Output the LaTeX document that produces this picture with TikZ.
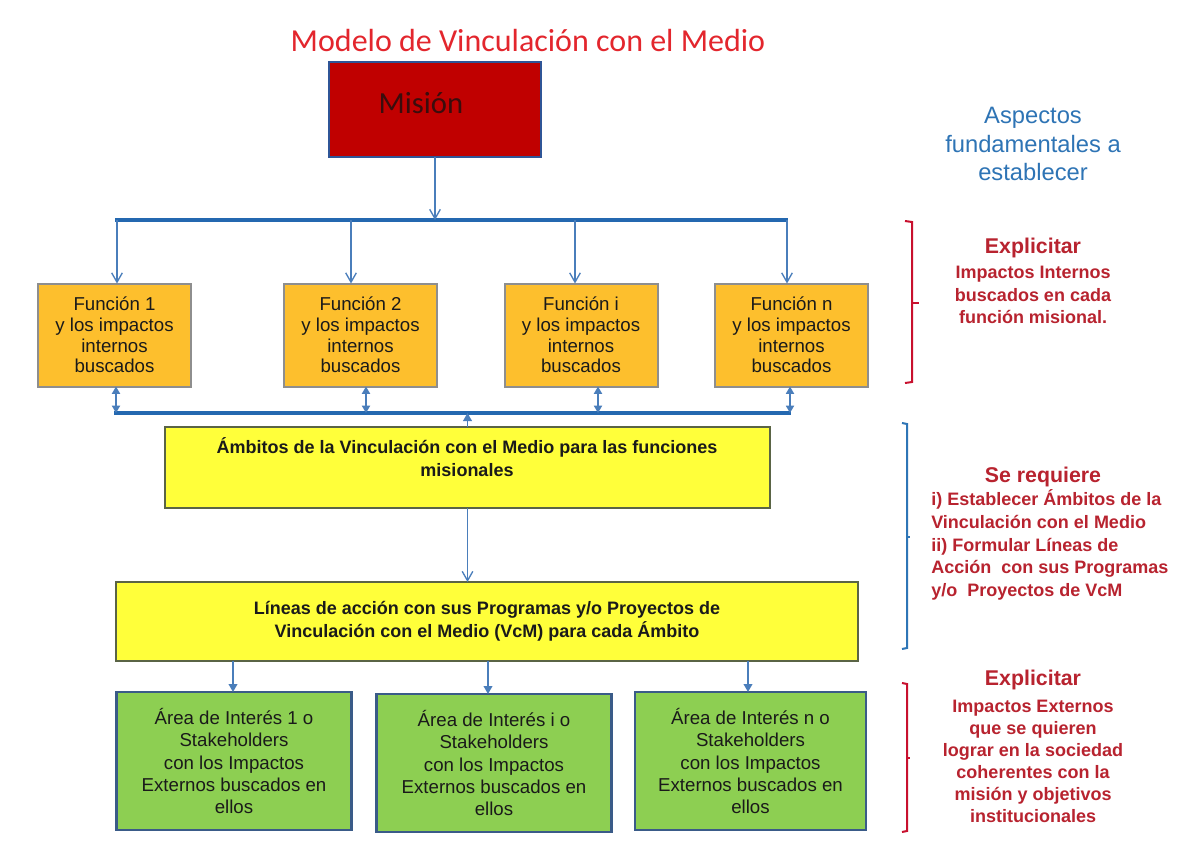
\documentclass[tikz,border=0pt]{standalone}
\usepackage{fontspec}
\setmainfont{Liberation Sans}
\newfontfamily\titlefont{Carlito}
\usetikzlibrary{arrows.meta,calc}
\definecolor{titlered}{HTML}{E3262D}
\definecolor{misred}{HTML}{C00000}
\definecolor{misborder}{HTML}{2F5597}
\definecolor{mistext}{HTML}{3A0D0D}
\definecolor{barblue}{HTML}{2468B0}
\definecolor{linkblue}{HTML}{4A7EBB}
\definecolor{orangefill}{HTML}{FDBF2D}
\definecolor{orangeborder}{HTML}{8E8E8E}
\definecolor{yellowfill}{HTML}{FFFF3A}
\definecolor{yellowborder}{HTML}{5A6445}
\definecolor{greenfill}{HTML}{8DCF52}
\definecolor{greenborder}{HTML}{3A5B88}
\definecolor{notered}{HTML}{B8232F}
\definecolor{noteblue}{HTML}{2E74B5}
\definecolor{bracered}{HTML}{C8102E}
\definecolor{braceblue}{HTML}{2E75B6}
\definecolor{boxtext}{HTML}{1A1A1A}
\begin{document}
\begin{tikzpicture}[x=0.75pt,y=-0.75pt,
  sz/.style 2 args={minimum width=#1*0.75pt,minimum height=#2*0.75pt},
  base/.style={inner sep=0pt,outer sep=0pt,align=center,text=boxtext},
  funbox/.style={base,draw=orangeborder,line width=1.5pt,fill=orangefill,
    font=\fontsize{14}{15.6}\selectfont,sz={153}{103}},
  yelbox/.style={base,draw=yellowborder,line width=1.6pt,fill=yellowfill,
    font=\bfseries\fontsize{13.5}{17}\selectfont},
  grnbox/.style={base,draw=greenborder,line width=2.2pt,fill=greenfill,
    font=\fontsize{14}{16.8}\selectfont,sz={235}{138}},
  heading/.style={inner sep=0pt,text=notered,font=\bfseries\fontsize{16}{19}\selectfont},
  note/.style={inner sep=0pt,text=notered,align=center,font=\bfseries\fontsize{13.5}{17}\selectfont},
  bar/.style={draw=barblue,line width=2.3pt},
  link/.style={draw=linkblue,line width=1pt},
  vhead/.style={-{Straight Barb[length=7pt,width=8pt]}},
  thead/.style={-{Triangle[length=6pt,width=6.5pt]}},
  dhead/.style={{Triangle[length=5.5pt,width=6pt]}-{Triangle[length=5.5pt,width=6pt]}}
]
\useasboundingbox (0,0) rectangle (1201,857);
\fill[white] (0,0) rectangle (1201,857);

% title
\node[inner sep=0pt,text=titlered,font=\titlefont\fontsize{24}{28}\selectfont] (title) at (528,41) {Modelo de Vinculación con el Medio};

% mision
\node[base,draw=misborder,line width=1.6pt,fill=misred,sz={212}{95}] (mision) at (435,109.5) {};
\node[inner sep=0pt,text=mistext,font=\titlefont\fontsize{23}{26}\selectfont] (mtext) at (421,103) {Misión};

% upper bar
\coordinate (barL) at (115,220);
\coordinate (barR) at (788,220);
\draw[bar] (barL) -- (barR);
\draw[link,vhead] (mision.south) -- (mision.south |- barL);

% function boxes
\node[funbox] (f1) at (114.5,335) {Función 1\\y los impactos\\internos\\buscados};
\node[funbox] (f2) at (360.5,335) {Función 2\\y los impactos\\internos\\buscados};
\node[funbox] (fi) at (581,335) {Función i\\y los impactos\\internos\\buscados};
\node[funbox] (fn) at (791.5,335) {Función n\\y los impactos\\internos\\buscados};

\coordinate (f1t) at ($(f1.north)+(2.5,0)$);
\coordinate (f2t) at ($(f2.north)+(-9.5,0)$);
\coordinate (fit) at ($(fi.north)+(-6,0)$);
\coordinate (fnt) at ($(fn.north)+(-4.5,0)$);
\foreach \t in {f1t,f2t,fit,fnt}{
  \draw[link,vhead] (\t |- barL) -- (\t);
}

% lower bar
\coordinate (lbL) at (114,413);
\coordinate (lbR) at (791,413);
\draw[bar] (lbL) -- (lbR);
\coordinate (f1b) at ($(f1.south)+(1.5,0)$);
\coordinate (f2b) at ($(f2.south)+(5.5,0)$);
\coordinate (fib) at ($(fi.south)+(17,0)$);
\coordinate (fnb) at ($(fn.south)+(-1.5,0)$);
\foreach \b in {f1b,f2b,fib,fnb}{
  \draw[link,line width=1.3pt,dhead] (\b) -- (\b |- lbL);
}

% ambitos
\node[yelbox,sz={605}{81}] (amb) at (467.5,467.5) {};
\node[inner sep=0pt,align=center,text=boxtext,font=\bfseries\fontsize{13.5}{17}\selectfont] (ambt) at (467,457) {Ámbitos de la Vinculación con el Medio para las funciones\\misionales};
\draw[link,line width=1.3pt,thead] (amb.north) -- (amb.north |- lbL);

% lineas
\node[yelbox,line width=2.2pt,sz={742}{79}] (lin) at (487,621.5) {Líneas de acción con sus Programas y/o Proyectos de\\Vinculación con el Medio (VcM) para cada Ámbito};
\draw[link,vhead] (amb.south) -- (amb.south |- lin.north);

% green boxes
\node[grnbox] (g1) at (234,761) {Área de Interés 1 o\\Stakeholders\\con los Impactos\\Externos buscados en\\ellos};
\node[grnbox] (g2) at (494,763) {Área de Interés i o\\Stakeholders\\con los Impactos\\Externos buscados en\\ellos};
\node[grnbox,sz={231}{138}] (g3) at (750.5,761) {Área de Interés n o\\Stakeholders\\con los Impactos\\Externos buscados en\\ellos};
\coordinate (g1t) at ($(g1.north)+(-1,0)$);
\coordinate (g2t) at ($(g2.north)+(-6,0)$);
\coordinate (g3t) at ($(g3.north)+(-2.5,0)$);
\foreach \g in {g1t,g2t,g3t}{
  \draw[link,line width=1.3pt,thead] (\g |- lin.south) -- (\g);
}

% right column
\node[inner sep=0pt,align=center,text=noteblue,font=\fontsize{17.8}{21.5}\selectfont] (asp) at (1033,144) {Aspectos\\fundamentales a\\establecer};

\draw[bracered,line width=1.5pt] (905,221) -- (912,222) -- (912,382) -- (905,383);
\draw[bracered,line width=1.5pt] (912,303) -- (919,303);
\node[heading] (h1) at (1033,248) {Explicitar};
\node[note] (n1) at (1033,295) {Impactos Internos\\buscados en cada\\función misional.};

\draw[braceblue,line width=1.5pt] (902,423) -- (907,424) -- (907,648) -- (902,649);
\draw[braceblue,line width=1.5pt] (907,537) -- (910,537);
\node[heading] (h2) at (1043,477) {Se requiere};
\node[note,align=left,anchor=west] (n2) at (931,545) {i) Establecer Ámbitos de la\\Vinculación con el Medio\\ii) Formular Líneas de\\Acción\ \ con sus Programas\\y/o\ \ Proyectos de VcM};

\draw[bracered,line width=1.5pt] (902,683) -- (907,684) -- (907,831) -- (902,832);
\draw[bracered,line width=1.5pt] (907,758) -- (910,758);
\node[heading] (h3) at (1033,680) {Explicitar};
\node[note,font=\bfseries\fontsize{13.5}{16.5}\selectfont] (n3) at (1033,761) {Impactos Externos\\que se quieren\\lograr en la sociedad\\coherentes con la\\misión y objetivos\\institucionales};
\end{tikzpicture}
\end{document}
